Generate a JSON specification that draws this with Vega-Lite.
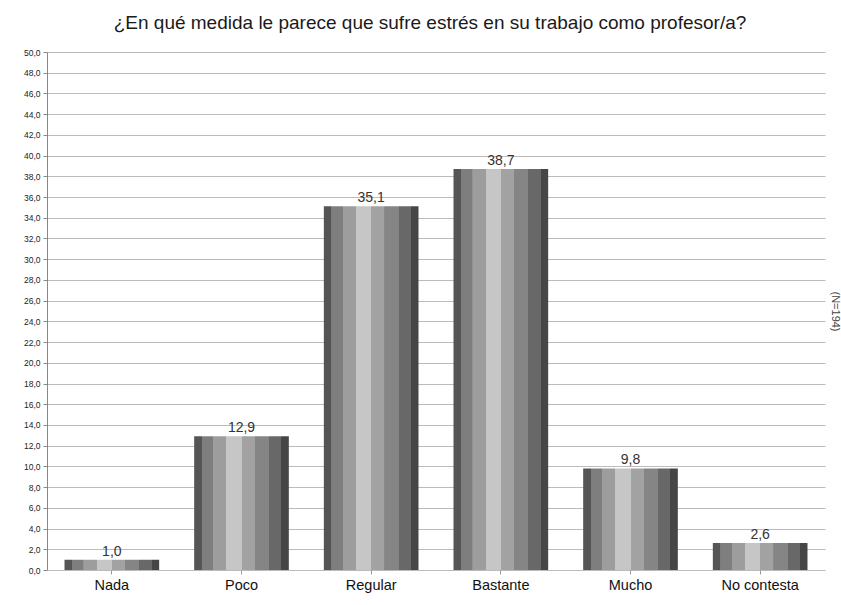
{
  "$schema": "https://vega.github.io/schema/vega-lite/v6.json",
  "autosize": {"type": "none"},
  "width": 778,
  "height": 518,
  "padding": {"left": 47, "top": 52, "right": 16, "bottom": 35},
  "background": "white",
  "config": {
    "locale": {"number": {"decimal": ",", "thousands": ".", "grouping": [3], "currency": ["", " €"]}},
    "view": {"stroke": null},
    "font": "Liberation Sans"
  },
  "title": {
    "text": "¿En qué medida le parece que sufre estrés en su trabajo como profesor/a?",
    "fontSize": 19,
    "fontWeight": "normal",
    "color": "#1a1a1a",
    "font": "Liberation Sans",
    "offset": 15,
    "dx": -6
  },
  "data": {
    "values": [
      {"cat": "Nada", "pct": 1.0},
      {"cat": "Poco", "pct": 12.9},
      {"cat": "Regular", "pct": 35.1},
      {"cat": "Bastante", "pct": 38.7},
      {"cat": "Mucho", "pct": 9.8},
      {"cat": "No contesta", "pct": 2.6}
    ]
  },
  "encoding": {
    "x": {
      "field": "cat",
      "type": "nominal",
      "sort": null,
      "scale": {"paddingInner": 0.27, "paddingOuter": 0.135},
      "axis": {
        "title": null,
        "labelAngle": 0,
        "labelFontSize": 14.5,
        "labelColor": "#111111",
        "labelPadding": 4,
        "domain": false,
        "tickColor": "#999999",
        "tickSize": 4,
        "tickBand": "center"
      }
    }
  },
  "layer": [
    {
      "mark": {
        "type": "bar",
        "color": {
          "gradient": "linear",
          "x1": 0, "x2": 1, "y1": 0, "y2": 0,
          "stops": [
            {"offset": 0, "color": "#555555"},
            {"offset": 0.08, "color": "#555555"},
            {"offset": 0.081, "color": "#7e7e7e"},
            {"offset": 0.2, "color": "#7e7e7e"},
            {"offset": 0.201, "color": "#9d9d9d"},
            {"offset": 0.34, "color": "#9d9d9d"},
            {"offset": 0.341, "color": "#c6c6c6"},
            {"offset": 0.5, "color": "#c6c6c6"},
            {"offset": 0.501, "color": "#a2a2a2"},
            {"offset": 0.64, "color": "#a2a2a2"},
            {"offset": 0.641, "color": "#858585"},
            {"offset": 0.79, "color": "#858585"},
            {"offset": 0.791, "color": "#686868"},
            {"offset": 0.92, "color": "#686868"},
            {"offset": 0.921, "color": "#464646"},
            {"offset": 1, "color": "#464646"}
          ]
        }
      },
      "encoding": {
        "y": {
          "field": "pct",
          "type": "quantitative",
          "scale": {"domain": [0, 50], "nice": false},
          "axis": {
            "title": null,
            "values": [0,2,4,6,8,10,12,14,16,18,20,22,24,26,28,30,32,34,36,38,40,42,44,46,48,50],
            "format": ".1f",
            "labelFontSize": 8.5,
            "labelColor": "#222222",
            "gridColor": "#bbbbbb",
            "gridWidth": 1,
            "domainColor": "#888888",
            "tickColor": "#888888",
            "tickSize": 4,
            "labelPadding": 3
          }
        }
      }
    },
    {
      "mark": {"type": "text", "dy": -8, "fontSize": 14, "color": "#333333"},
      "encoding": {
        "y": {
          "field": "pct",
          "type": "quantitative",
          "scale": {"domain": [0, 50], "nice": false},
          "axis": {
            "orient": "right",
            "title": "(N=194)",
            "titleAngle": 90,
            "titleFontSize": 11,
            "titleFontWeight": "normal",
            "titleColor": "#444444",
            "titlePadding": 4,
            "labels": false,
            "ticks": false,
            "domain": false,
            "grid": false
          }
        },
        "text": {"field": "pct", "type": "quantitative", "format": ".1f"}
      }
    }
  ],
  "resolve": {"axis": {"y": "independent"}}
}
